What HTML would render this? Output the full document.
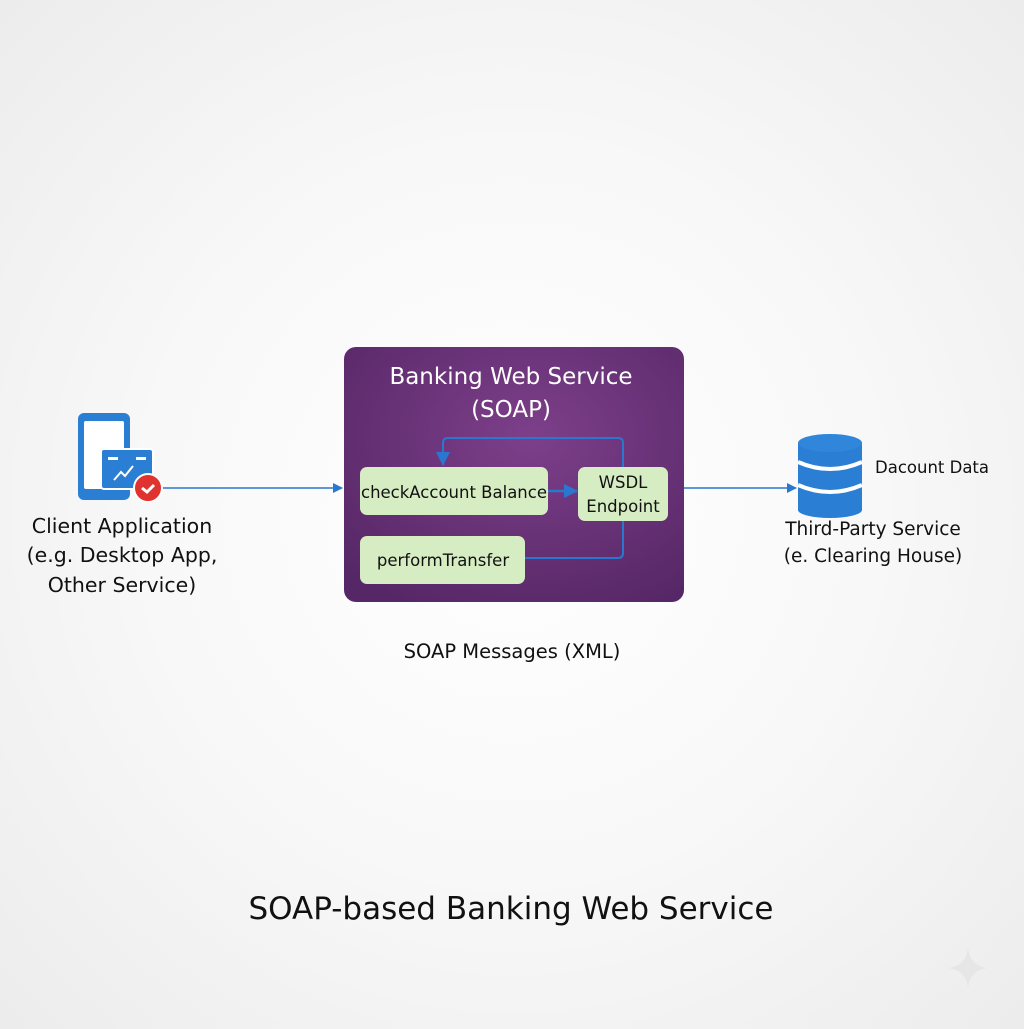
<!DOCTYPE html>
<html><head><style>
html,body{margin:0;padding:0;}
body{width:1024px;height:1024px;background:radial-gradient(ellipse at 50% 50%,#ffffff 0%,#f8f8f8 50%,#ececec 100%);font-family:"Liberation Sans","DejaVu Sans",sans-serif;}
svg text{font-family:"DejaVu Sans","Liberation Sans",sans-serif;}
</style></head><body>
<svg width="1024" height="1024" viewBox="0 0 1024 1024" xmlns="http://www.w3.org/2000/svg">
<defs>
<radialGradient id="pg" cx="0.55" cy="0.35" r="0.75">
<stop offset="0" stop-color="#7d3f8a"/><stop offset="1" stop-color="#562766"/>
</radialGradient>
<marker id="ah" markerWidth="10" markerHeight="10" refX="9" refY="5" orient="auto" markerUnits="userSpaceOnUse">
<path d="M0,0 L10,5 L0,10 z" fill="#2a77d0"/></marker>
<marker id="ah2" markerWidth="14" markerHeight="14" refX="13" refY="7" orient="auto" markerUnits="userSpaceOnUse">
<path d="M0,0 L14,7 L0,14 z" fill="#2a77d0"/></marker>
</defs>
<!-- purple box -->
<rect x="344" y="347" width="340" height="255" rx="12" fill="url(#pg)"/>
<text x="511" y="384" font-size="23" fill="#fff" text-anchor="middle">Banking Web Service</text>
<text x="511" y="417" font-size="23" fill="#fff" text-anchor="middle">(SOAP)</text>
<!-- loop -->
<path d="M623,467 V443 Q623,438 618,438 H448 Q443,438 443,443 V465" fill="none" stroke="#2a77d0" stroke-width="2" marker-end="url(#ah2)"/>
<path d="M525,558 H618 Q623,558 623,553 V521" fill="none" stroke="#2a77d0" stroke-width="2"/>
<line x1="548" y1="491" x2="577" y2="491" stroke="#2a77d0" stroke-width="2.5" marker-end="url(#ah2)"/>
<rect x="360" y="467" width="188" height="48" rx="7" fill="#d6ecc2"/>
<text x="454" y="498" font-size="16.5" fill="#111" text-anchor="middle">checkAccount Balance</text>
<rect x="578" y="467" width="90" height="54" rx="7" fill="#d6ecc2"/>
<text x="623" y="488" font-size="16.5" fill="#111" text-anchor="middle">WSDL</text>
<text x="623" y="512" font-size="16.5" fill="#111" text-anchor="middle">Endpoint</text>
<rect x="360" y="536" width="165" height="48" rx="7" fill="#d6ecc2"/>
<text x="443" y="566" font-size="16.5" fill="#111" text-anchor="middle">performTransfer</text>
<!-- connectors -->
<line x1="160" y1="488" x2="342" y2="488" stroke="#2a77d0" stroke-width="1.5" marker-end="url(#ah)"/>
<line x1="684" y1="488" x2="796" y2="488" stroke="#2a77d0" stroke-width="1.5" marker-end="url(#ah)"/>
<!-- client icon -->
<rect x="78" y="413" width="52" height="87" rx="6" fill="#2a7fd4"/>
<rect x="84" y="421" width="40" height="68" rx="2" fill="#fff"/>
<rect x="101" y="449" width="52" height="40" rx="3" fill="#2a7fd4" stroke="#fff" stroke-width="2"/>
<rect x="108" y="457" width="10" height="3" fill="#fff"/>
<rect x="136" y="457" width="10" height="3" fill="#fff"/>
<path d="M114,480 L121,472 L125,476 L133,466" fill="none" stroke="#fff" stroke-width="2"/>
<circle cx="148" cy="488" r="14" fill="#e0332f" stroke="#fff" stroke-width="2"/>
<path d="M142,488 L147,492 L154,485" fill="none" stroke="#fff" stroke-width="3"/>
<text x="122" y="533" font-size="20.5" fill="#111" text-anchor="middle">Client Application</text>
<text x="122" y="562" font-size="20.5" fill="#111" text-anchor="middle">(e.g. Desktop App,</text>
<text x="122" y="592" font-size="20.5" fill="#111" text-anchor="middle">Other Service)</text>
<!-- database -->
<rect x="798" y="443" width="64" height="67" fill="#2a7fd4"/>
<ellipse cx="830" cy="510" rx="32" ry="8" fill="#2a7fd4"/>
<path d="M798,462 Q830,476 862,462" fill="none" stroke="#fff" stroke-width="4"/>
<path d="M798,485 Q830,499 862,485" fill="none" stroke="#fff" stroke-width="4"/>
<ellipse cx="830" cy="443" rx="32" ry="9" fill="#2f86da"/>
<text x="875" y="473" font-size="16.5" fill="#111">Dacount Data</text>
<text x="873" y="535" font-size="18.5" fill="#111" text-anchor="middle">Third-Party Service</text>
<text x="873" y="562" font-size="18.5" fill="#111" text-anchor="middle">(e. Clearing House)</text>
<text x="512" y="658" font-size="19.5" fill="#111" text-anchor="middle">SOAP Messages (XML)</text>
<text x="511" y="919" font-size="31" fill="#111" text-anchor="middle">SOAP-based Banking Web Service</text>
<path d="M968,948 Q970,966 988,968 Q970,970 968,988 Q966,970 948,968 Q966,966 968,948z" fill="#e6e6e6"/>
</svg>
</body></html>
